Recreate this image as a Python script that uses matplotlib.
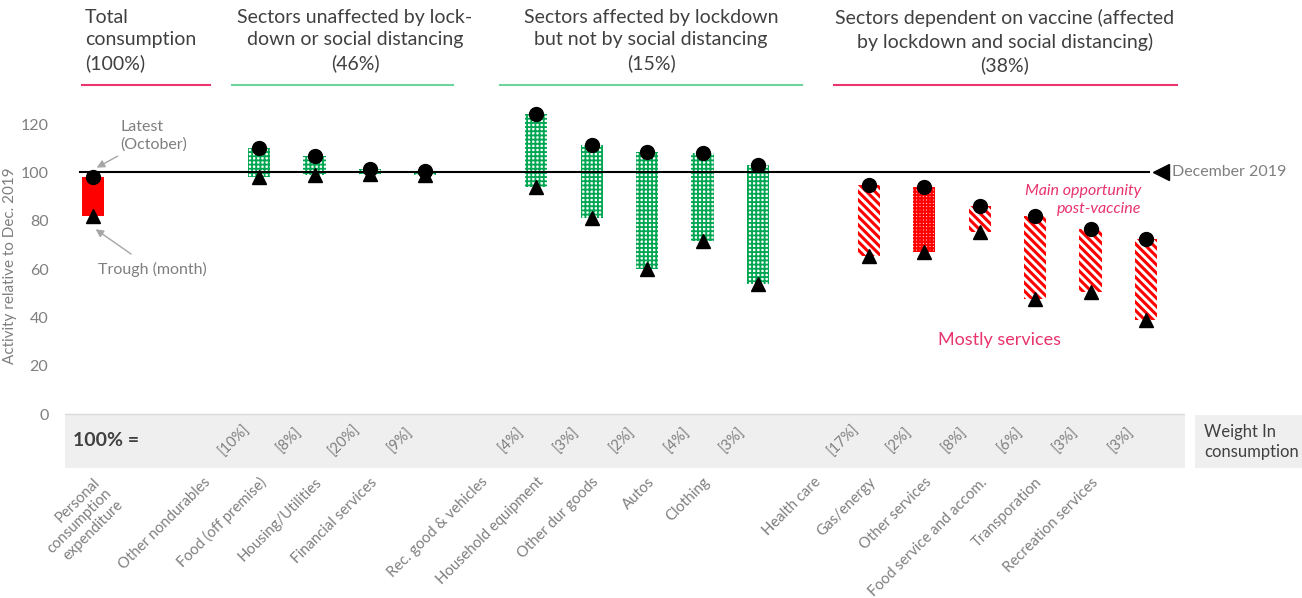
import matplotlib as mpl
import matplotlib.pyplot as plt
from matplotlib.patches import Rectangle

plt.rcParams["font.family"] = ["Lato", "DejaVu Sans"]

# --- DATA ---
bar_pos = [0, 3, 4, 5, 6, 8, 9, 10, 11, 12, 14, 15, 16, 17, 18, 19]
latest = [98, 110, 107, 101.5, 100.5, 124, 111.5, 108.5, 108, 103,
          95, 94, 86, 82, 76.5, 72.5]
trough = [82, 98, 99, 99.5, 99, 94, 81, 60, 71.5, 54,
          65.5, 67, 75.5, 47.5, 50.5, 39]
styles = ["solid", "green", "green", "green", "green",
          "green", "green", "green", "green", "green",
          "stripe", "redgrid", "stripe", "stripe", "stripe", "stripe"]
weights = ["", "[10%]", "[8%]", "[20%]", "[9%]", "[4%]", "[3%]", "[2%]",
           "[4%]", "[3%]", "[17%]", "[2%]", "[8%]", "[6%]", "[3%]", "[3%]"]

label_pos = [0, 2, 3, 4, 5, 7, 8, 9, 10, 11, 13, 14, 15, 16, 17, 18]
labels = ["Personal\nconsumption\nexpenditure", "Other nondurables",
          "Food (off premise)", "Housing/Utilities", "Financial services",
          "Rec. good & vehicles", "Household equipment", "Other dur goods",
          "Autos", "Clothing", "Health care", "Gas/energy", "Other services",
          "Food service and accom.", "Transporation", "Recreation services"]

GREEN = "#00A651"
RED = "#FF0000"
PINK = "#E8336D"
GRAY_TXT = "#7F7F7F"
DARK = "#404040"

fig = plt.figure(figsize=(13.02, 5.98), dpi=100)
ax = fig.add_axes([0.05, 0.2174, 0.86, 0.6154])
ax.set_xlim(-0.5, 19.7)
ax.set_ylim(-22.3, 130)

# gray weight band
ax.axhspan(-22.3, 0, color="#EFEFEF", zorder=0, lw=0)
ax.axhline(0, color="#D9D9D9", lw=1, zorder=1)

# bars
for x, lo, hi, st in zip(bar_pos, trough, latest, styles):
    if st == "solid":
        ax.bar(x, hi - lo, bottom=lo, width=0.4, color=RED, zorder=2)
    elif st == "green":
        with mpl.rc_context({"hatch.linewidth": 1.3}):
            ax.bar(x, hi - lo, bottom=lo, width=0.4, facecolor="white",
                   edgecolor=GREEN, hatch="++++", lw=0, zorder=2)
    elif st == "redgrid":
        with mpl.rc_context({"hatch.linewidth": 1.6}):
            ax.bar(x, hi - lo, bottom=lo, width=0.4, facecolor="white",
                   edgecolor=RED, hatch="+++++", lw=0, zorder=2)
    else:
        with mpl.rc_context({"hatch.linewidth": 2.2}):
            ax.bar(x, hi - lo, bottom=lo, width=0.4, facecolor="white",
                   edgecolor=RED, hatch="\\\\\\\\", lw=0, zorder=2)

ax.plot([-0.23, 19.05], [100, 100], color="black", lw=1.5, zorder=3)
ax.plot(bar_pos, latest, "o", color="black", ms=10, ls="none", zorder=4)
ax.plot(bar_pos, trough, "^", color="black", ms=10, ls="none", zorder=4)
ax.plot(19.27, 100, "<", color="black", ms=11, clip_on=False, zorder=4)
ax.text(19.47, 100, "December 2019", color=GRAY_TXT, fontsize=11.5,
        va="center", ha="left")

# weights inside band
for x, w in zip(bar_pos, weights):
    if w:
        ax.text(x - 0.45, -11, w, rotation=45, ha="center", va="center",
                color=GRAY_TXT, fontsize=10.5)
ax.text(-0.35, -11, "100% =", fontsize=14, color=DARK, va="center",
        ha="left", fontweight="bold")

# axes style
for s in ax.spines.values():
    s.set_visible(False)
ax.set_yticks([0, 20, 40, 60, 80, 100, 120])
ax.tick_params(axis="y", length=0, colors=GRAY_TXT, labelsize=11.5, pad=12)
ax.set_ylabel("Activity relative to Dec. 2019", color=GRAY_TXT, fontsize=11)
ax.yaxis.set_label_coords(-0.043, 0.55)
ax.set_xticks(label_pos)
ax.set_xticklabels(labels, rotation=45, ha="right", rotation_mode="anchor",
                   color=GRAY_TXT, fontsize=10.7, multialignment="right",
                   linespacing=1.2)
ax.tick_params(axis="x", length=0, pad=5)

# annotations
ax.annotate("Latest\n(October)", xy=(0.07, 102), xytext=(0.5, 108.5),
            color=GRAY_TXT, fontsize=11.5, ha="left", va="bottom",
            linespacing=1.3,
            arrowprops=dict(arrowstyle="-|>", color="#A6A6A6", lw=1,
                            shrinkA=2, shrinkB=0))
ax.annotate("Trough (month)", xy=(0.05, 76.5), xytext=(0.1, 60),
            color=GRAY_TXT, fontsize=11.5, ha="left", va="center",
            arrowprops=dict(arrowstyle="-|>", color="#A6A6A6", lw=1,
                            shrinkA=6, shrinkB=0))
ax.text(18.91, 88.5, "Main opportunity\npost-vaccine", color=PINK,
        fontsize=11.5, style="italic", ha="right", va="center",
        linespacing=1.35)
ax.text(16.35, 30.5, "Mostly services", color=PINK, fontsize=13,
        ha="center", va="center")

# headers
headers = [
    (85, "left", "Total\nconsumption\n(100%)", 82, 210, PINK),
    (355, "center", "Sectors unaffected by lock-\ndown or social distancing\n(46%)", 232, 453, "#6FD3A0"),
    (651, "center", "Sectors affected by lockdown\nbut not by social distancing\n(15%)", 500, 802, "#6FD3A0"),
    (1005, "center", "Sectors dependent on vaccine (affected\nby lockdown and social distancing)\n(38%)", 834, 1177, PINK),
]
for xc, ha, txt, x0, x1, col in headers:
    fig.text(xc / 1302, 1 - 9 / 598, txt, ha=ha, va="top", fontsize=14,
             color=DARK, linespacing=1.38)
    fig.add_artist(plt.Line2D([x0 / 1302, x1 / 1302], [1 - 85 / 598] * 2,
                              color=col, lw=1.5))

# weight legend box
fig.add_artist(Rectangle((1195 / 1302, 1 - 468 / 598), 107 / 1302, 53 / 598,
                         transform=fig.transFigure, color="#EFEFEF", lw=0))
fig.text(1204 / 1302, 1 - 442 / 598, "Weight In\nconsumption", ha="left",
         va="center", fontsize=12, color=DARK, linespacing=1.25)

fig.savefig("out.png", dpi=100)
